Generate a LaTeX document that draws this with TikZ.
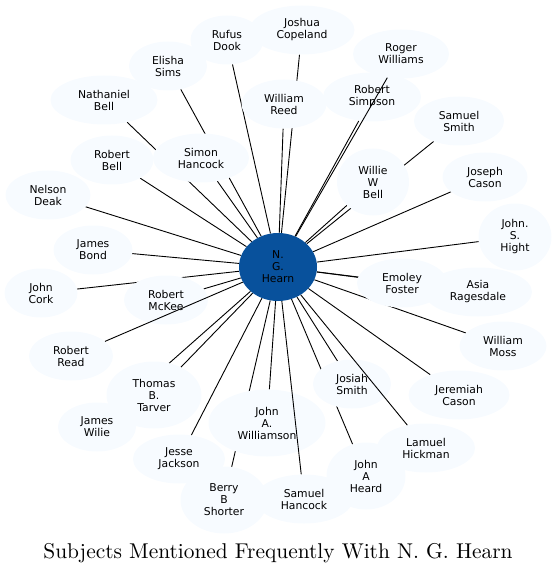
\documentclass[tikz,border=0pt]{standalone}
\usepackage{fontspec}
\usetikzlibrary{shapes.geometric}
\newfontfamily\labelfont{DejaVu Sans}
\definecolor{pale}{HTML}{F7FBFF}
\definecolor{deep}{HTML}{08519C}
\pgfdeclarelayer{under}
\pgfdeclarelayer{over}
\pgfsetlayers{under,main,over}
\tikzset{
  ppl/.style={ellipse, fill=pale, inner sep=0pt, minimum width=#1,
              minimum height=49pt, align=center,
              font=\labelfont\fontsize{10.8}{12}\selectfont},
  ppl/.default=85pt,
  tall/.style={minimum height=67pt},
  link/.style={black, line width=0.9pt},
}

\begin{document}
\begin{tikzpicture}[x=1pt, y=-1pt]
  \useasboundingbox (0,0) rectangle (557,569);
  % centre
  \node[ellipse, fill=deep, inner sep=0pt, minimum width=78pt, minimum height=68pt,
        align=center, font=\labelfont\fontsize{10.8}{12}\selectfont]
    (hearn) at (278,267) {N.\\G.\\Hearn};

  % ring of names
  \node[ppl=73pt]  (rufus)      at (227,40)  {Rufus\\Dook};
  \node[ppl=105pt] (joshua)     at (302,30)  {Joshua\\Copeland};
  \node[ppl=96pt]  (roger)      at (401,54)  {Roger\\Williams};
  \node[ppl=78pt]  (elisha)     at (168,66)  {Elisha\\Sims};
  \node[ppl=107pt] (nathaniel)  at (104,100) {Nathaniel\\Bell};
  \node[ppl=85pt]  (wreed)      at (284,104) {William\\Reed};
  \node[ppl=98pt]  (rsimpson)   at (372,97)  {Robert\\Simpson};
  \node[ppl=90pt]  (ssmith)     at (459,121) {Samuel\\Smith};
  \node[ppl=83pt]  (rbell)      at (112,160) {Robert\\Bell};
  \node[ppl=96pt]  (simon)      at (201,158) {Simon\\Hancock};
  \node[ppl=72pt, tall] (willie) at (373,182) {Willie\\W\\Bell};
  \node[ppl=85pt]  (jcason)     at (485,177) {Joseph\\Cason};
  \node[ppl=85pt]  (nelson)     at (48,195)  {Nelson\\Deak};
  \node[ppl=73pt, tall] (hight) at (515,237) {John.\\S.\\Hight};
  \node[ppl=79pt]  (jbond)      at (93,250)  {James\\Bond};
  \node[ppl=90pt]  (emoley)     at (402,283) {Emoley\\Foster};
  \node[ppl=108pt] (asia)       at (478,292) {Asia\\Ragesdale};
  \node[ppl=73pt]  (jcork)      at (41,293)  {John\\Cork};
  \node[ppl=84pt]  (mckee)      at (166,300) {Robert\\McKee};
  \node[ppl=84pt]  (rread)      at (71,356)  {Robert\\Read};
  \node[ppl=87pt]  (wmoss)      at (503,346) {William\\Moss};
  \node[ppl=95pt, tall] (tarver) at (154,395) {Thomas\\B.\\Tarver};
  \node[ppl=78pt]  (josiah)     at (352,384) {Josiah\\Smith};
  \node[ppl=101pt] (jeremiah)   at (459,395) {Jeremiah\\Cason};
  \node[ppl=78pt]  (wilie)      at (97,427)  {James\\Wilie};
  \node[ppl=117pt, tall] (williamson) at (267,423) {John\\A.\\Williamson};
  \node[ppl=98pt]  (lamuel)     at (426,448) {Lamuel\\Hickman};
  \node[ppl=92pt]  (jesse)      at (179,459) {Jesse\\Jackson};
  \node[ppl=79pt, tall] (heard) at (366,476) {John\\A\\Heard};
  \node[ppl=87pt, tall] (berry) at (224,500) {Berry\\B\\Shorter};
  \node[ppl=98pt]  (shancock)   at (304,499) {Samuel\\Hancock};

  % edges, most of them behind the names
  \begin{pgfonlayer}{under}
    \foreach \n in {rufus, joshua, elisha, nathaniel, wreed, rsimpson, ssmith,
                    rbell, simon, willie, jcason, nelson, hight, jbond, emoley,
                    asia, jcork, mckee, wmoss, tarver, josiah, jeremiah, wilie,
                    williamson, jesse, heard, berry}
      \draw[link] (hearn) -- (\n);
  \end{pgfonlayer}
  \begin{pgfonlayer}{over}
    \foreach \n in {roger, rread, lamuel, shancock}
      \draw[link] (hearn) -- (\n);
  \end{pgfonlayer}

  \node[anchor=base, inner sep=0pt] (title) at (278,558)
    {\scalebox{2.14}{Subjects Mentioned Frequently With N. G. Hearn}};
\end{tikzpicture}
\end{document}
